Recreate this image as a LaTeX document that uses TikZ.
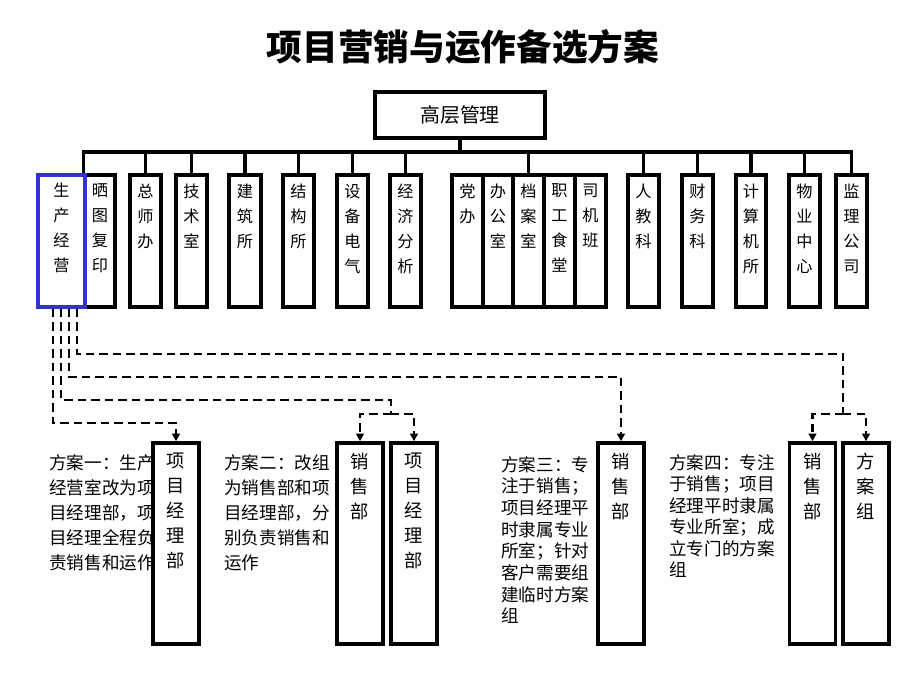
\documentclass[tikz,border=0pt]{standalone}
\usepackage{fontspec}
\newfontfamily\cjk{Noto Sans CJK SC}
\usetikzlibrary{positioning,arrows.meta}
\definecolor{frameblue}{RGB}{51,51,204}

\begin{document}
\begin{tikzpicture}[
    dept/.style={rectangle, draw, line width=2.2pt, fill=white, minimum height=3.3cm, inner sep=0pt},
    depttext/.style={align=center, inner sep=0pt, font=\cjk\fontsize{11.5}{17.8}\selectfont},
    unit/.style={rectangle, draw, line width=2.4pt, fill=white, minimum width=1.15cm, minimum height=5.025cm, inner sep=0pt},
    unittext/.style={align=center, inner sep=0pt, font=\cjk\fontsize{13}{17.8}\selectfont},
    note/.style={align=left, inner sep=0pt, anchor=north west, font=\cjk\fontsize{12.5}{17.8}\selectfont},
    link/.style={line width=2.2pt},
    flow/.style={line width=1.8pt, dash pattern=on 6pt off 3.6pt},
    arrow/.style={flow, -{Triangle[length=5.5pt, width=5.5pt]}}
]
    \useasboundingbox (0,0) rectangle (23,17.25);

    \node[font=\cjk\bfseries\fontsize{25.4}{30}\selectfont] (title) at (11.575,16.075) {项目营销与运作备选方案};
    \node[rectangle, draw, link, minimum width=4.25cm, minimum height=1.15cm, font=\cjk\fontsize{14.2}{17}\selectfont] (top) at (11.5,14.375) {高层管理};
    \coordinate (bus) at (0,13.45);

    % departments
    \foreach \x/\w/\n/\t in {
        2.5/0.75cm/shaitu/{晒\\图\\复\\印},
        3.6375/0.775cm/zongshi/{总\\师\\办},
        4.7875/0.775cm/jishu/{技\\术\\室},
        6.125/0.8cm/jianzhu/{建\\筑\\所},
        7.4625/0.775cm/jiegou/{结\\构\\所},
        8.8125/0.775cm/shebei/{设\\备\\电\\气},
        10.1375/0.775cm/jingji/{经\\济\\分\\析},
        11.6875/0.775cm/dangban/{党\\办},
        12.45/0.75cm/bangong/{办\\公\\室},
        13.2125/0.775cm/dangan/{档\\案\\室},
        13.9875/0.775cm/shitang/{职\\工\\食\\堂},
        14.7625/0.775cm/siji/{司\\机\\班},
        16.0875/0.775cm/renjiao/{人\\教\\科},
        17.4375/0.775cm/caiwu/{财\\务\\科},
        18.775/0.75cm/jisuanji/{计\\算\\机\\所},
        20.1125/0.775cm/wuye/{物\\业\\中\\心},
        21.2875/0.775cm/jianli/{监\\理\\公\\司}}
    {
        \node[dept, minimum width=\w] (\n) at (\x,11.225) {};
        \node[depttext, below=0.25cm of \n.north] (\n-t) {\t};
    }
    \node[dept, draw=frameblue, line width=2.8pt, minimum width=1.175cm] (scjy) at (1.5375,11.225) {};
    \node[depttext, below=0.25cm of scjy.north] (scjy-t) {生\\产\\经\\营};

    \draw[link] (top.south) -- (top.south |- bus);
    \draw[link] (shaitu.north west) |- (bus -| jianli.north) -- (jianli.north);
    \foreach \n in {zongshi, jishu, jianzhu, jiegou, shebei, jingji, dangan, renjiao, caiwu, jisuanji, wuye}
        \draw[link] (\n.north) -- (\n.north |- bus);

    % options
    \node[note] (note1) at (1.225,5.9) {方案一：生产\\经营室改为项\\目经理部，项\\目经理全程负\\责销售和运作};
    \node[note] (note2) at (5.6,5.9) {方案二：改组\\为销售部和项\\目经理部，分\\别负责销售和\\运作};
    \node[note, font=\cjk\fontsize{12.5}{15.4}\selectfont] (note3) at (12.525,5.85) {方案三：专\\注于销售；\\项目经理平\\时隶属专业\\所室；针对\\客户需要组\\建临时方案\\组};
    \node[note, font=\cjk\fontsize{12.5}{15.3}\selectfont] (note4) at (16.725,5.9) {方案四：专注\\于销售；项目\\经理平时隶属\\专业所室；成\\立专门的方案\\组};

    \foreach \x/\n/\t in {
        4.4/pm1/{项\\目\\经\\理\\部},
        9.0/sales2/{销\\售\\部},
        10.35/pm2/{项\\目\\经\\理\\部},
        15.525/sales3/{销\\售\\部},
        20.3125/sales4/{销\\售\\部},
        21.65/plan4/{方\\案\\组}}
    {
        \node[unit] (\n) at (\x,3.6625) {};
        \node[unittext, below=0.28cm of \n.north] (\n-t) {\t};
    }

    \coordinate (split2) at (9.775,6.9);
    \coordinate (split4) at (21.075,6.9);
    \draw[arrow] ([xshift=-2.125mm]scjy.south) -- ++(0,-2.85) -| (pm1.north);
    \draw[flow] ([xshift=-0.125mm]scjy.south) -- ++(0,-2.275) -| (split2);
    \draw[arrow] (split2) -| (sales2.north);
    \draw[arrow] (split2) -| (pm2.north);
    \draw[arrow] ([xshift=1.875mm]scjy.south) -- ++(0,-1.7) -| (sales3.north);
    \draw[flow] ([xshift=3.875mm]scjy.south) -- ++(0,-1.125) -| (split4);
    \draw[arrow] (split4) -| (sales4.north);
    \draw[arrow] (split4) -| (plan4.north);
\end{tikzpicture}
\end{document}
